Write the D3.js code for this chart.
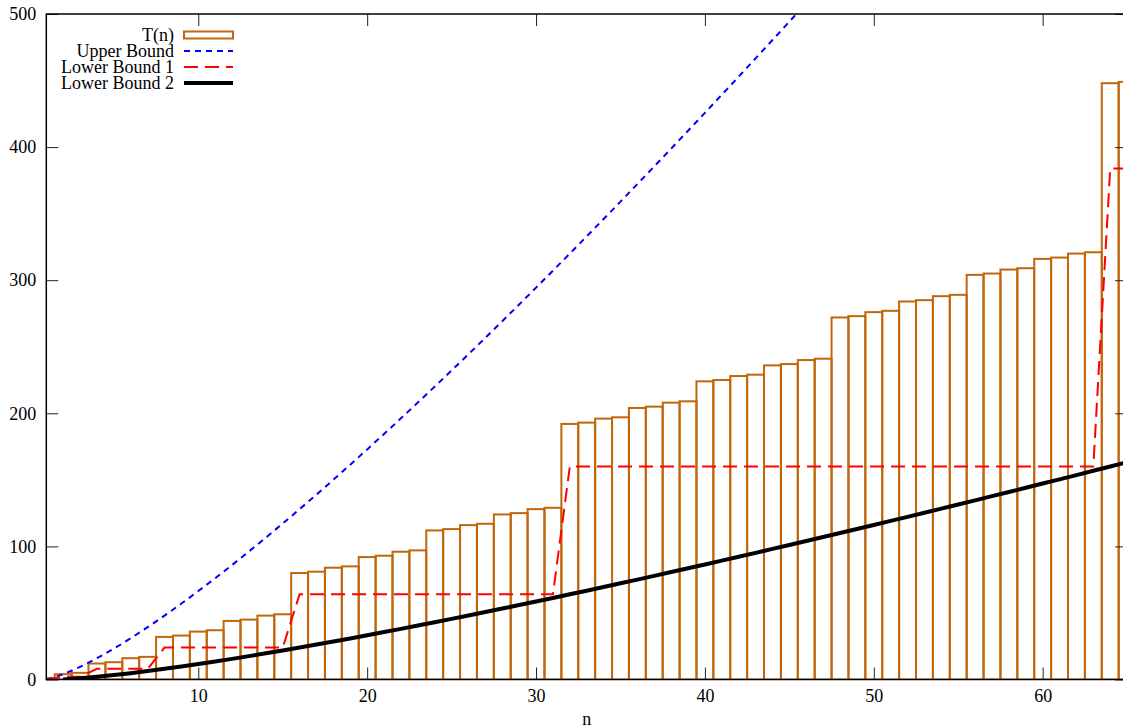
<!DOCTYPE html>
<html>
<head>
<meta charset="utf-8">
<script src="https://cdn.jsdelivr.net/npm/d3@7"></script>
<style>
  body { margin: 0; background: #fff; }
  svg { display: block; }
  text { font-family: "Liberation Serif", "DejaVu Serif", serif; font-size: 18px; fill: #000; }
</style>
</head>
<body>
<div id="graph1"></div>
<script>
var n_values = [1,2,3,4,5,6,7,8,9,10,11,12,13,14,15,16,17,18,19,20,21,22,23,24,25,26,27,28,29,30,31,32,33,
  34,35,36,37,38,39,40,41,42,43,44,45,46,47,48,49,50,51,52,53,54,55,56,57,58,59,60,61,62,63,64,65];
var t_values = [1,4,5,12,13,16,17,32,33,36,37,44,45,48,49,80,81,84,85,92,93,96,97,112,113,116,117,124,125,128,129,192,193,
  196,197,204,205,208,209,224,225,228,229,236,237,240,241,272,273,276,277,284,285,288,289,304,305,308,309,316,317,320,321,448,449];

// upper bound (blue), n = 1..46, rest runs off the top
var upper_n = [1,2,3,4,5,6,7,8,9,10,11,12,13,14,15,16,17,18,19,20,21,22,23,24,25,26,27,28,29,30,31,32,33,34,35,36,37,38,39,40,41,42,43,44,45,46];
var upper_values = [0,4,9.51,16,23.22,31.02,39.3,48,57.06,66.44,76.11,86.04,96.21,106.61,117.21,128,138.98,150.12,161.42,172.88,
  184.48,196.21,208.09,220.08,232.19,244.42,256.76,269.21,281.77,294.41,307.16,320,332.93,345.95,359.05,372.23,385.5,398.84,412.26,
  425.75,439.32,452.95,466.66,480.43,494.27,508.17];

// lower bound 1 (red dashed step)
var lower1_values = [0,2,2,8,8,8,8,24,24,24,24,24,24,24,24,64,64,64,64,64,64,64,64,64,64,64,64,64,64,64,64,160,160,
  160,160,160,160,160,160,160,160,160,160,160,160,160,160,160,160,160,160,160,160,160,160,160,160,160,160,160,160,160,160,384,384];

// lower bound 2 (black), n = 2..65
var lower2_n = n_values.slice(1);
var lower2_values = [0,0.88,2,3.3,4.75,6.33,8,9.76,11.61,13.53,15.51,17.55,19.65,21.8,24,26.24,28.53,30.86,33.22,35.62,38.05,40.52,
  43.02,45.55,48.11,50.69,53.3,55.94,58.6,61.29,64,66.73,69.49,72.26,75.06,77.88,80.71,83.57,86.44,89.33,92.24,95.17,98.11,101.07,
  104.04,107.03,110.04,113.06,116.1,119.15,122.21,125.29,128.38,131.49,134.61,137.74,140.88,144.04,147.21,150.39,153.58,156.79,160,163.23];

var x_ticks = [10,20,30,40,50,60];
var y_ticks = [0,100,200,300,400,500];

var legend_names = ["T(n)","Upper Bound","Lower Bound 1","Lower Bound 2"];
var box_color = "#c2660c";

function make_chart(){
  var width = 1123, height = 728;
  var left = 46.3, right = 1127.1, top = 14, bottom = 679.5;

  var xScale = d3.scaleLinear().domain([1,65]).range([left,right]);
  var yScale = d3.scaleLinear().domain([0,500]).range([bottom,top]);

  var svg = d3.select("#graph1").append("svg")
    .attr("width", width)
    .attr("height", height);

  svg.append("defs").append("clipPath")
    .attr("id","plotclip")
    .append("rect")
    .attr("x", left).attr("y", top)
    .attr("width", right-left).attr("height", bottom-top);

  var plot = svg.append("g").attr("clip-path","url(#plotclip)");

  // boxes, one unit wide, centred on n
  plot.selectAll(".box")
    .data(n_values)
  .enter().append("rect")
    .attr("class","box")
    .attr("x", function(d){ return xScale(d-0.5); })
    .attr("y", function(d,i){ return yScale(t_values[i]); })
    .attr("width", function(d){ return xScale(d+0.5)-xScale(d-0.5); })
    .attr("height", function(d,i){ return yScale(0)-yScale(t_values[i]); })
    .attr("fill","none")
    .attr("stroke", box_color)
    .attr("stroke-width", 2);

  var line = d3.line()
    .x(function(d){ return xScale(d[0]); })
    .y(function(d){ return yScale(d[1]); });

  plot.append("path")
    .datum(d3.zip(upper_n, upper_values))
    .attr("d", line.curve(d3.curveMonotoneX))
    .attr("fill","none")
    .attr("stroke","#0000ff")
    .attr("stroke-width", 2)
    .attr("stroke-dasharray","6,5");

  line.curve(d3.curveLinear);

  plot.append("path")
    .datum(d3.zip(n_values, lower1_values))
    .attr("d", line)
    .attr("fill","none")
    .attr("stroke","#ff0000")
    .attr("stroke-width", 2)
    .attr("stroke-dasharray","14,7");

  plot.append("path")
    .datum(d3.zip(lower2_n, lower2_values))
    .attr("d", line)
    .attr("fill","none")
    .attr("stroke","#000")
    .attr("stroke-width", 4);

  // axes, ticks pointing inwards like gnuplot
  svg.append("g")
    .attr("transform","translate(0,"+bottom+")")
    .call(d3.axisBottom(xScale).tickValues(x_ticks).tickSizeInner(-12).tickSizeOuter(0).tickPadding(10))
    .call(function(g){ g.select(".domain").remove(); });

  svg.append("g")
    .attr("transform","translate(0,"+top+")")
    .call(d3.axisTop(xScale).tickValues(x_ticks).tickSizeInner(-12).tickSizeOuter(0).tickFormat(""))
    .call(function(g){ g.select(".domain").remove(); });

  svg.append("g")
    .attr("transform","translate("+left+",0)")
    .call(d3.axisLeft(yScale).tickValues(y_ticks).tickSizeInner(-12).tickSizeOuter(0).tickPadding(10))
    .call(function(g){ g.select(".domain").remove(); });

  svg.append("g")
    .attr("transform","translate("+right+",0)")
    .call(d3.axisRight(yScale).tickValues(y_ticks).tickSizeInner(-12).tickSizeOuter(0).tickFormat(""))
    .call(function(g){ g.select(".domain").remove(); });

  svg.selectAll(".tick text")
    .attr("font-family",'"Liberation Serif", serif')
    .attr("font-size", 18);
  svg.selectAll(".tick line").attr("stroke","#222");

  svg.append("rect")
    .attr("x", left).attr("y", top)
    .attr("width", right-left).attr("height", bottom-top)
    .attr("fill","none")
    .attr("stroke","#000")
    .attr("stroke-width", 1.5);

  svg.append("text")
    .attr("x", (left+right)/2)
    .attr("y", 725)
    .attr("text-anchor","middle")
    .text("n");

  // legend
  var legend = svg.append("g");
  var rows = legend.selectAll(".row")
    .data(legend_names)
  .enter().append("g")
    .attr("class","row")
    .attr("transform", function(d,i){ return "translate(0,"+(35+i*16)+")"; });

  rows.append("text")
    .attr("x", 174)
    .attr("y", 6)
    .attr("text-anchor","end")
    .text(function(d){ return d; });

  rows.each(function(d,i){
    var g = d3.select(this);
    if(i==0){
      g.append("rect")
        .attr("x",184).attr("y",-3.5).attr("width",49).attr("height",7)
        .attr("fill","none").attr("stroke",box_color).attr("stroke-width",2);
    } else if(i==1){
      g.append("line").attr("x1",184).attr("x2",233)
        .attr("stroke","#0000ff").attr("stroke-width",2).attr("stroke-dasharray","6,5");
    } else if(i==2){
      g.append("line").attr("x1",184).attr("x2",233)
        .attr("stroke","#ff0000").attr("stroke-width",2).attr("stroke-dasharray","14,7");
    } else {
      g.append("line").attr("x1",184).attr("x2",233)
        .attr("stroke","#000").attr("stroke-width",4);
    }
  });
}

make_chart();
</script>
</body>
</html>
